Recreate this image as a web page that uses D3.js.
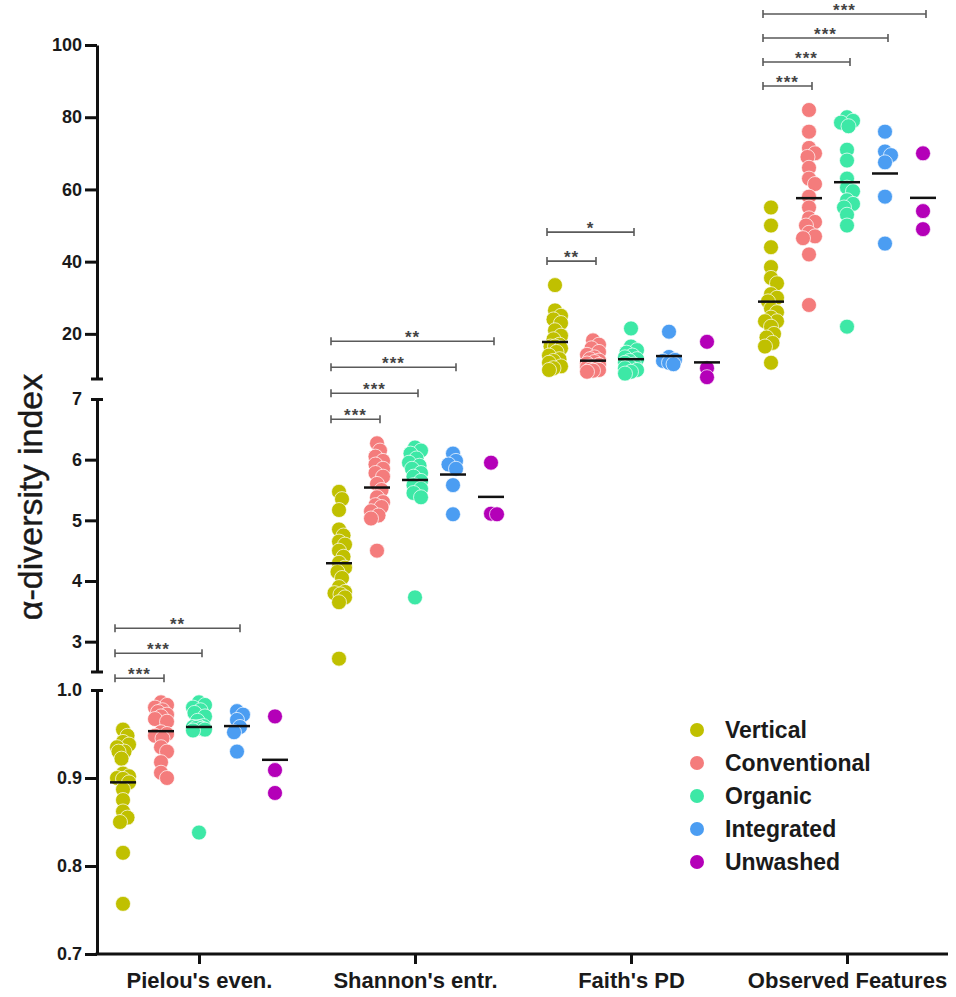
<!DOCTYPE html> <meta charset="utf-8" />
<style>
  body {
    margin: 0;
    overflow: hidden;
    background: #fff;
  }
  svg {
    font-family: "Liberation Sans", Arial, sans-serif;
  }
</style>
<body>
  <svg></svg>
  <script src="https://d3js.org/d3.v7.min.js"></script>
  <script>
    var metrics = ["Pielou's even.", "Shannon's entr.", "Faith's PD", "Observed Features"];
    var groups = ["Vertical", "Conventional", "Organic", "Integrated", "Unwashed"];
    var colours = ["#c0c000", "#f47c7c", "#3de8a6", "#4b9df2", "#b400b8"];

    // values per group, in the order of `groups`
    var pielou = [
      [0.955, 0.948, 0.941, 0.938, 0.930, 0.935, 0.930, 0.922, 0.905, 0.902, 0.900, 0.899, 0.895, 0.887, 0.875, 0.862, 0.855, 0.850, 0.815, 0.757],
      [0.986, 0.983, 0.980, 0.977, 0.975, 0.972, 0.970, 0.967, 0.964, 0.952, 0.950, 0.948, 0.945, 0.935, 0.930, 0.918, 0.906, 0.900],
      [0.986, 0.983, 0.980, 0.977, 0.974, 0.970, 0.965, 0.958, 0.959, 0.958, 0.957, 0.956, 0.955, 0.954, 0.838],
      [0.976, 0.972, 0.966, 0.958, 0.952, 0.930],
      [0.970, 0.909, 0.883]
    ];
    var shannon = [
      [5.47, 5.35, 5.17, 4.85, 4.75, 4.65, 4.60, 4.50, 4.40, 4.30, 4.22, 4.15, 4.05, 3.90, 3.82, 3.80, 3.78, 3.73, 3.65, 2.72],
      [6.27, 6.15, 6.05, 5.98, 5.92, 5.85, 5.78, 5.72, 5.60, 5.50, 5.38, 5.30, 5.25, 5.22, 5.15, 5.08, 5.03, 4.50],
      [6.20, 6.15, 6.10, 6.02, 5.95, 5.90, 5.85, 5.78, 5.72, 5.65, 5.58, 5.52, 5.45, 5.38, 3.73],
      [6.10, 5.98, 5.92, 5.85, 5.58, 5.10],
      [5.95, 5.11, 5.10]
    ];
    var faith = [
      [33.5, 26.5, 25.0, 24.0, 23.0, 21.0, 19.5, 18.5, 17.0, 16.5, 16.5, 16.0, 15.0, 14.0, 13.0, 12.5, 12.0, 11.0, 10.5, 10.0],
      [18.2, 17.0, 16.0, 15.0, 14.2, 13.5, 13.0, 12.6, 12.2, 11.8, 11.4, 11.0, 10.7, 10.4, 10.1, 10.0, 9.8, 9.5],
      [21.5, 16.5, 15.5, 14.8, 14.0, 13.5, 13.0, 12.5, 12.0, 11.5, 11.0, 10.5, 10.0, 9.5, 9.0],
      [20.6, 13.6, 12.8, 12.5, 12.0, 11.6],
      [17.8, 10.5, 8.0]
    ];
    var observed = [
      [55, 50, 44, 38.5, 35.5, 34, 31, 30, 29, 27, 26, 24.5, 23.5, 23.5, 22, 20, 19, 17.5, 16.5, 12],
      [82, 76, 71.5, 70, 69, 66, 63, 61.5, 58, 55, 52, 51, 50, 48, 47, 46.5, 42, 28],
      [80, 79, 78.5, 77.5, 71, 68, 63, 60.5, 59.5, 57, 56, 55, 53, 50, 22],
      [76, 70.5, 69.5, 67.5, 58, 45],
      [70, 54, 49]
    ];

    var topTicks = [20, 40, 60, 80, 100];
    var midTicks = [3, 4, 5, 6, 7];
    var lowTicks = [0.7, 0.8, 0.9, 1.0];

    // significance vs Vertical: [metric index, group index, label]
    var sigs = [
      [0, 1, "***"], [0, 2, "***"], [0, 3, "**"],
      [1, 1, "***"], [1, 2, "***"], [1, 3, "***"], [1, 4, "**"],
      [2, 1, "**"], [2, 2, "*"],
      [3, 1, "***"], [3, 2, "***"], [3, 3, "***"], [3, 4, "***"]
    ];

    var width = 956, height = 997;
    var axisX = 97, axisEnd = 948, baseY = 954;
    var r = 7.5;

    var svg = d3.select("svg").attr("width", width).attr("height", height);

    var yLow = d3.scaleLinear().domain([0.7, 1.0]).range([954, 690]);
    var yMid = d3.scaleLinear().domain([2.5, 7]).range([672, 399]);
    var yTop = d3.scaleLinear().domain([7.5, 100]).range([379, 45]);
    var yScales = [yLow, yMid, yTop, yTop];
    var data = [pielou, shannon, faith, observed];

    var xGroup = d3.scalePoint().domain(metrics).range([199, 847]);
    var xSub = d3.scalePoint().domain(groups).range([-76, 76]);
    function colX(m, g) { return xGroup(metrics[m]) + xSub(groups[g]); }

    // ---- y axes (three broken segments)
    function yAxis(scale, ticks, fmt) {
      var g = svg.append("g").attr("transform", "translate(" + axisX + ",0)")
        .call(d3.axisLeft(scale).tickValues(ticks).tickFormat(fmt)
          .tickSize(12).tickSizeOuter(0).tickPadding(3));
      g.select(".domain").attr("stroke-width", 3).attr("stroke", "#111");
      g.selectAll(".tick line").attr("stroke-width", 3).attr("stroke", "#111");
      g.selectAll(".tick text").attr("font-size", 18).attr("font-weight", "bold").attr("fill", "#1a1a1a");
      return g;
    }
    function cap(g, y) {
      g.append("line").attr("x1", -6).attr("x2", 6).attr("y1", y).attr("y2", y)
        .attr("stroke", "#111").attr("stroke-width", 3);
    }

    var gTop = yAxis(yTop, topTicks, d3.format("d"));
    cap(gTop, yTop.range()[0]);

    var gMid = yAxis(yMid, midTicks, d3.format("d"));
    gMid.selectAll(".tick").filter(d => d === 7).select("line").attr("x1", 6).attr("x2", -6);
    cap(gMid, yMid.range()[0]);

    var gLow = yAxis(yLow, lowTicks, d3.format(".1f"));
    gLow.selectAll(".tick").filter(d => d === 1.0).select("line").attr("x1", 6).attr("x2", -6);

    // ---- x axis
    var gx = svg.append("g").attr("transform", "translate(0," + baseY + ")")
      .call(d3.axisBottom(xGroup).tickSize(10).tickSizeOuter(0).tickPadding(8));
    gx.select(".domain").remove();
    gx.append("line").attr("x1", axisX - 1.5).attr("x2", axisEnd).attr("y1", 0).attr("y2", 0)
      .attr("stroke", "#111").attr("stroke-width", 3);
    gx.selectAll(".tick line").attr("stroke-width", 3).attr("stroke", "#111");
    gx.selectAll(".tick text").attr("font-size", 22).attr("font-weight", "bold").attr("fill", "#1a1a1a");

    svg.append("text")
      .attr("transform", "translate(42,497) rotate(-90)")
      .attr("text-anchor", "middle")
      .attr("font-size", 34)
      .attr("fill", "#1a1a1a")
      .attr("stroke", "#1a1a1a")
      .attr("stroke-width", 0.4)
      .text("α-diversity index");

    // ---- beeswarm offsets
    function swarm(vals, y) {
      var pts = vals.map(v => ({ v: v, y: y(v), dx: 0 })).sort((a, b) => a.y - b.y);
      var placed = [], minD = r * 1.0, maxDx = 6;
      var cands = [0];
      for (var k = 1.5; k <= maxDx; k += 1.5) cands.push(k, -k);
      pts.forEach(p => {
        var best = 0, bestGap = -1;
        for (var i = 0; i < cands.length; i++) {
          var gap = d3.min(placed, q => Math.hypot(q.dx - cands[i], q.y - p.y));
          if (gap === undefined) gap = Infinity;
          if (gap >= minD) { best = cands[i]; break; }
          if (gap > bestGap) { bestGap = gap; best = cands[i]; }
        }
        p.dx = best;
        placed.push(p);
      });
      return pts;
    }

    var dots = svg.append("g");
    var means = svg.append("g");
    data.forEach((metric, m) => {
      var y = yScales[m];
      metric.forEach((vals, g) => {
        var cx = colX(m, g);
        dots.selectAll(null).data(swarm(vals, y)).enter().append("circle")
          .attr("cx", d => cx + d.dx)
          .attr("cy", d => d.y)
          .attr("r", r)
          .attr("fill", colours[g])
          .attr("stroke", "#fff")
          .attr("stroke-width", 1)
          .attr("stroke-opacity", 0.7);
        var mu = d3.mean(vals);
        means.append("line")
          .attr("x1", cx - 13).attr("x2", cx + 13)
          .attr("y1", y(mu)).attr("y2", y(mu))
          .attr("stroke", "#111").attr("stroke-width", 2.5);
      });
    });

    // ---- significance brackets
    var bracketStep = [25, 26, 29, 24];
    var level = {};
    var gs = svg.append("g");
    sigs.forEach(s => {
      var m = s[0], g = s[1];
      level[m] = (level[m] || 0);
      var top = d3.min(data[m].map(v => yScales[m](d3.max(v))));
      var yy = top - 24 - level[m] * bracketStep[m];
      level[m] += 1;
      var x1 = colX(m, 0) - 8, x2 = colX(m, g) + 3;
      gs.append("path")
        .attr("d", "M" + x1 + "," + (yy - 4) + "V" + (yy + 4) + "M" + x1 + "," + yy + "H" + x2 +
          "M" + x2 + "," + (yy - 4) + "V" + (yy + 4))
        .attr("fill", "none").attr("stroke", "#5a5a5a").attr("stroke-width", 1.6);
      gs.append("text")
        .attr("x", (x1 + x2) / 2).attr("y", yy + 2)
        .attr("text-anchor", "middle")
        .attr("font-size", 17)
        .attr("font-weight", "bold")
        .attr("letter-spacing", 1)
        .attr("fill", "#444")
        .text(s[2]);
    });

    // ---- legend
    var leg = svg.append("g").attr("transform", "translate(697,730)");
    groups.forEach((name, i) => {
      leg.append("circle").attr("cx", 0).attr("cy", i * 33).attr("r", 7).attr("fill", colours[i]);
      leg.append("text").attr("x", 28).attr("y", i * 33 + 8)
        .attr("font-size", 23).attr("font-weight", "bold").attr("fill", "#1a1a1a")
        .text(name);
    });
  </script>
</body>
